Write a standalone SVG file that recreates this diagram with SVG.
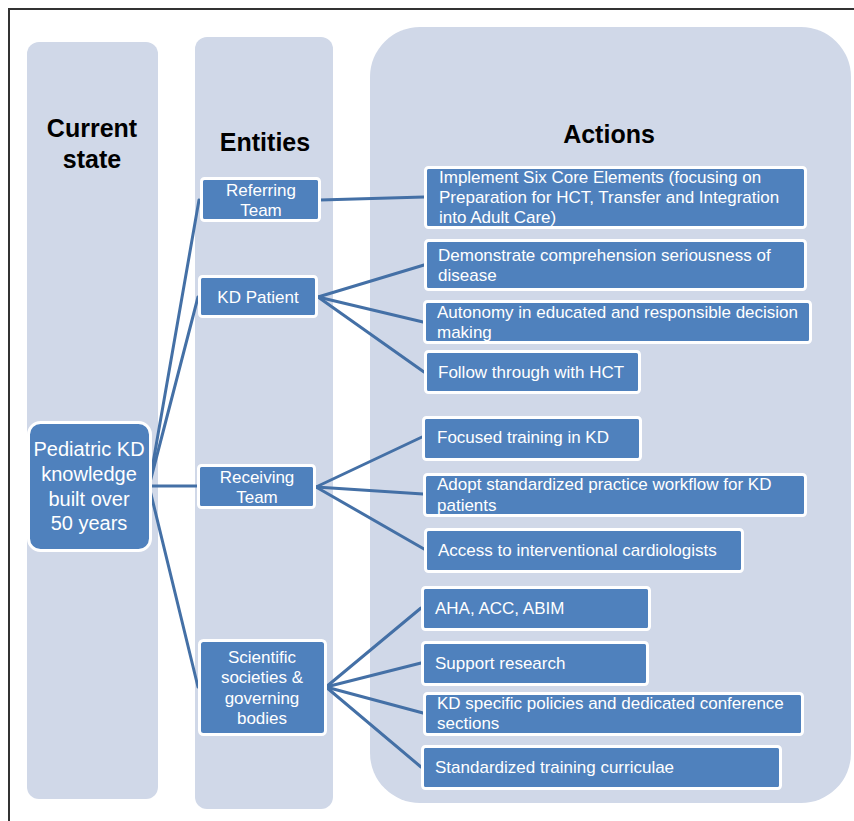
<svg xmlns="http://www.w3.org/2000/svg" width="854" height="821" viewBox="0 0 854 821">
<defs>
<style>
.col{fill:#D0D8E8;}
.node{fill:#4F81BD;stroke:#FFFFFF;stroke-width:3;}
.t{font-family:"Liberation Sans",Arial,sans-serif;font-size:17px;fill:#FFFFFF;}
.c{text-anchor:middle;}
.big{font-size:20px;}
.h{font-family:"Liberation Sans",Arial,sans-serif;font-size:25px;font-weight:bold;fill:#000000;text-anchor:middle;}
.conn line{stroke:#4470A6;stroke-width:3;stroke-linecap:round;}
</style>
</defs>
<rect x="0" y="0" width="854" height="821" fill="#FFFFFF"/>
<rect x="9" y="9" width="900" height="900" fill="none" stroke="#333333" stroke-width="2"/>
<g id="columns">
<rect class="col" x="27" y="42" width="131" height="757" rx="12"/>
<rect class="col" x="195" y="37" width="138" height="772" rx="12"/>
<rect class="col" x="370" y="27" width="481" height="776" rx="50"/>
</g>
<g id="headers">
<text class="h" x="92" y="137">Current</text>
<text class="h" x="92" y="168">state</text>
<text class="h" x="265" y="151">Entities</text>
<text class="h" x="609" y="143">Actions</text>
</g>
<g class="conn" id="connectors">
<line x1="149" y1="486" x2="199" y2="200"/>
<line x1="149" y1="486" x2="198" y2="297"/>
<line x1="149" y1="486" x2="197" y2="486"/>
<line x1="149" y1="486" x2="198" y2="687"/>
<line x1="320" y1="200" x2="424" y2="197"/>
<line x1="318" y1="297" x2="424" y2="265"/>
<line x1="318" y1="297" x2="423" y2="322"/>
<line x1="318" y1="297" x2="424" y2="372"/>
<line x1="316" y1="487" x2="422" y2="437"/>
<line x1="316" y1="487" x2="423" y2="494"/>
<line x1="316" y1="487" x2="424" y2="549"/>
<line x1="326" y1="687" x2="421" y2="608"/>
<line x1="326" y1="687" x2="421" y2="663"/>
<line x1="326" y1="687" x2="423" y2="713"/>
<line x1="326" y1="687" x2="421" y2="767"/>
</g>
<g id="pediatric">
<rect class="node" x="28.5" y="422.5" width="122" height="128" rx="12"/>
<text class="t c big" x="89" y="456">Pediatric KD</text>
<text class="t c big" x="89" y="481">knowledge</text>
<text class="t c big" x="89" y="506">built over</text>
<text class="t c big" x="89" y="530">50 years</text>
</g>
<g id="referring">
<rect class="node" x="201.5" y="178.5" width="118" height="42" rx="3"/>
<text class="t c" x="261" y="196">Referring</text>
<text class="t c" x="261" y="216">Team</text>
</g>
<g id="kdpatient">
<rect class="node" x="199.5" y="276.5" width="117" height="40" rx="3"/>
<text class="t c" x="258" y="303">KD Patient</text>
</g>
<g id="receiving">
<rect class="node" x="198.5" y="465.5" width="116" height="42" rx="3"/>
<text class="t c" x="257" y="483">Receiving</text>
<text class="t c" x="257" y="503">Team</text>
</g>
<g id="scientific">
<rect class="node" x="199.5" y="640.5" width="126" height="94" rx="4"/>
<text class="t c" x="262" y="663">Scientific</text>
<text class="t c" x="262" y="683">societies &amp;</text>
<text class="t c" x="262" y="704">governing</text>
<text class="t c" x="262" y="724">bodies</text>
</g>
<g id="implement">
<rect class="node" x="425.5" y="167.5" width="380" height="60" rx="3"/>
<text class="t" x="439" y="183">Implement Six Core Elements (focusing on</text>
<text class="t" x="439" y="203">Preparation for HCT, Transfer and Integration</text>
<text class="t" x="439" y="223">into Adult Care)</text>
</g>
<g id="demonstrate">
<rect class="node" x="425.5" y="240.5" width="380" height="49" rx="3"/>
<text class="t" x="438" y="261">Demonstrate comprehension seriousness of</text>
<text class="t" x="438" y="281">disease</text>
</g>
<g id="autonomy">
<rect class="node" x="424.5" y="301.5" width="386" height="41" rx="3"/>
<text class="t" x="437" y="318">Autonomy in educated and responsible decision</text>
<text class="t" x="437" y="338">making</text>
</g>
<g id="follow">
<rect class="node" x="425.5" y="351.5" width="214" height="41" rx="3"/>
<text class="t" x="438" y="378">Follow through with HCT</text>
</g>
<g id="focused">
<rect class="node" x="423.5" y="417.5" width="217" height="42" rx="3"/>
<text class="t" x="437" y="443">Focused training in KD</text>
</g>
<g id="adopt">
<rect class="node" x="424.5" y="474.5" width="381" height="41" rx="3"/>
<text class="t" x="437" y="490">Adopt standardized practice workflow for KD</text>
<text class="t" x="437" y="511">patients</text>
</g>
<g id="access">
<rect class="node" x="425.5" y="529.5" width="317" height="42" rx="3"/>
<text class="t" x="438" y="556">Access to interventional cardiologists</text>
</g>
<g id="aha">
<rect class="node" x="422.5" y="587.5" width="227" height="42" rx="3"/>
<text class="t" x="435" y="614">AHA, ACC, ABIM</text>
</g>
<g id="support">
<rect class="node" x="422.5" y="642.5" width="225" height="42" rx="3"/>
<text class="t" x="435" y="669">Support research</text>
</g>
<g id="kdspecific">
<rect class="node" x="424.5" y="693.5" width="378" height="41" rx="3"/>
<text class="t" x="437" y="709">KD specific policies and dedicated conference</text>
<text class="t" x="437" y="729">sections</text>
</g>
<g id="standardized">
<rect class="node" x="422.5" y="746.5" width="358" height="42" rx="3"/>
<text class="t" x="435" y="773">Standardized training curriculae</text>
</g>
</svg>
